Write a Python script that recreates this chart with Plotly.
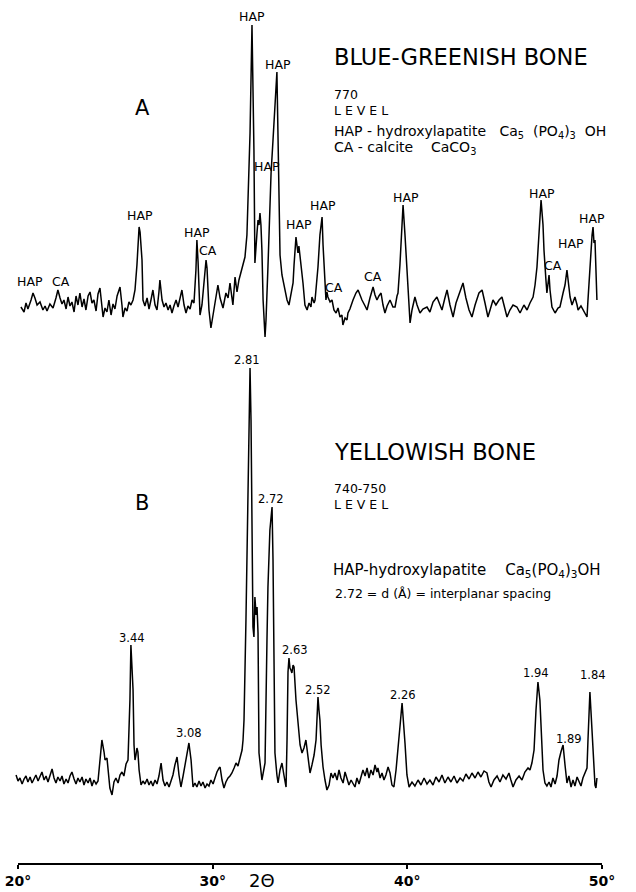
import plotly.graph_objects as go

# ---------------- data ----------------
# Panel A: blue-greenish bone (770 level); 2-theta in degrees, relative intensity
a_two_theta = [
    20.15, 20.31, 20.41, 20.51, 20.67, 20.77, 20.87, 20.98, 21.13, 21.28,
    21.39, 21.49, 21.64, 21.80, 21.95, 22.05, 22.16, 22.26, 22.36, 22.47,
    22.57, 22.67, 22.77, 22.88, 22.98, 23.08, 23.18, 23.29, 23.39, 23.49,
    23.60, 23.70, 23.80, 23.90, 24.01, 24.11, 24.21, 24.31, 24.37, 24.47,
    24.57, 24.67, 24.78, 24.88, 24.98, 25.09, 25.19, 25.24, 25.34, 25.39,
    25.50, 25.60, 25.70, 25.80, 25.91, 26.01, 26.11, 26.22, 26.27, 26.37,
    26.42, 26.52, 26.63, 26.73, 26.83, 26.93, 27.04, 27.14, 27.24, 27.29,
    27.40, 27.50, 27.60, 27.71, 27.81, 27.91, 28.01, 28.12, 28.22, 28.32,
    28.42, 28.53, 28.63, 28.73, 28.84, 28.94, 29.04, 29.14, 29.19, 29.25,
    29.35, 29.45, 29.55, 29.66, 29.71, 29.81, 29.91, 30.02, 30.12, 30.27,
    30.38, 30.53, 30.68, 30.79, 30.89, 30.99, 31.04, 31.15, 31.25, 31.35,
    31.51, 31.66, 31.76, 31.81, 31.92, 32.02, 32.07, 32.12, 32.17, 32.23,
    32.28, 32.33, 32.38, 32.43, 32.48, 32.53, 32.59, 32.69, 32.74, 32.84,
    32.94, 33.00, 33.10, 33.15, 33.25, 33.30, 33.36, 33.41, 33.46, 33.56,
    33.72, 33.82, 33.92, 34.02, 34.13, 34.18, 34.28, 34.33, 34.38, 34.43,
    34.49, 34.59, 34.64, 34.74, 34.85, 34.95, 35.05, 35.10, 35.21, 35.26,
    35.36, 35.41, 35.51, 35.62, 35.67, 35.72, 35.77, 35.82, 35.87, 35.92,
    36.03, 36.13, 36.23, 36.34, 36.44, 36.54, 36.64, 36.69, 36.80, 36.90,
    36.95, 37.05, 37.21, 37.36, 37.47, 37.57, 37.67, 37.83, 37.93, 38.08,
    38.24, 38.34, 38.44, 38.54, 38.65, 38.75, 38.85, 38.96, 39.11, 39.26,
    39.37, 39.47, 39.52, 39.62, 39.73, 39.78, 39.88, 39.98, 40.09, 40.14,
    40.24, 40.39, 40.50, 40.65, 40.80, 41.01, 41.16, 41.32, 41.52, 41.68,
    41.78, 41.93, 42.04, 42.19, 42.35, 42.50, 42.71, 42.86, 43.01, 43.17,
    43.32, 43.48, 43.68, 43.84, 43.99, 44.14, 44.25, 44.40, 44.55, 44.71,
    44.86, 45.02, 45.12, 45.27, 45.43, 45.63, 45.79, 45.99, 46.15, 46.30,
    46.46, 46.56, 46.66, 46.76, 46.87, 46.97, 47.02, 47.12, 47.17, 47.28,
    47.33, 47.43, 47.59, 47.74, 47.84, 48.00, 48.10, 48.20, 48.30, 48.36,
    48.46, 48.61, 48.72, 48.77, 48.92, 49.02, 49.13, 49.23, 49.28, 49.38,
    49.49, 49.54, 49.59, 49.64, 49.69, 49.74,
]
a_intensity = [
    33, 28, 37, 31, 40, 47, 42, 35, 38, 30,
    34, 29, 36, 32, 42, 50, 42, 36, 40, 31,
    43, 34, 38, 28, 44, 35, 47, 33, 41, 30,
    44, 48, 37, 40, 29, 46, 52, 35, 23, 32,
    28, 40, 25, 36, 31, 44, 50, 53, 35, 23,
    32, 29, 38, 35, 40, 50, 75, 113, 108, 80,
    40, 34, 42, 31, 40, 50, 35, 30, 48, 60,
    40, 33, 37, 30, 35, 27, 34, 40, 33, 43,
    50, 35, 27, 34, 31, 40, 37, 70, 100, 78,
    25, 35, 55, 80, 72, 30, 12, 25, 40, 55,
    42, 32, 47, 42, 57, 40, 35, 63, 48, 60,
    73, 83, 105, 140, 207, 315, 260, 190, 77, 90,
    108, 120, 115, 127, 115, 90, 40, 3, 20, 73,
    140, 167, 200, 220, 250, 268, 200, 140, 85, 65,
    47, 40, 35, 44, 57, 75, 103, 95, 87, 94,
    85, 65, 57, 35, 30, 37, 33, 43, 37, 40,
    60, 73, 105, 123, 95, 73, 45, 40, 48, 43,
    38, 40, 30, 27, 32, 23, 25, 15, 22, 20,
    27, 31, 40, 47, 50, 44, 40, 34, 30, 42,
    53, 45, 40, 44, 47, 35, 27, 34, 40, 33,
    33, 44, 47, 75, 115, 135, 105, 73, 30, 17,
    30, 43, 35, 27, 31, 33, 28, 38, 43, 35,
    30, 42, 50, 35, 23, 37, 48, 57, 42, 30,
    23, 35, 47, 50, 37, 23, 30, 40, 35, 40,
    43, 30, 23, 30, 35, 33, 27, 35, 30, 37,
    43, 55, 73, 105, 140, 115, 90, 60, 47, 65,
    50, 33, 27, 32, 33, 47, 55, 70, 55, 43,
    35, 43, 35, 30, 34, 30, 27, 23, 40, 73,
    105, 113, 97, 100, 75, 40,
]

# Panel B: yellowish bone (740-750 level)
b_two_theta = [
    19.90, 20.00, 20.10, 20.21, 20.31, 20.41, 20.51, 20.62, 20.72, 20.82,
    20.92, 21.03, 21.13, 21.23, 21.34, 21.44, 21.54, 21.64, 21.75, 21.85,
    21.95, 22.05, 22.16, 22.26, 22.36, 22.47, 22.57, 22.67, 22.77, 22.88,
    22.98, 23.08, 23.18, 23.29, 23.39, 23.49, 23.60, 23.70, 23.80, 23.90,
    24.01, 24.11, 24.21, 24.31, 24.42, 24.47, 24.57, 24.62, 24.72, 24.83,
    24.93, 25.03, 25.14, 25.24, 25.34, 25.44, 25.55, 25.65, 25.75, 25.80,
    25.91, 25.96, 26.01, 26.06, 26.11, 26.16, 26.22, 26.32, 26.42, 26.52,
    26.63, 26.73, 26.83, 26.93, 27.04, 27.14, 27.24, 27.35, 27.45, 27.55,
    27.65, 27.76, 27.86, 27.96, 28.06, 28.17, 28.27, 28.37, 28.48, 28.58,
    28.68, 28.78, 28.89, 28.99, 29.09, 29.19, 29.30, 29.40, 29.50, 29.61,
    29.71, 29.81, 29.91, 30.02, 30.12, 30.22, 30.33, 30.38, 30.48, 30.58,
    30.68, 30.79, 30.89, 30.99, 31.10, 31.20, 31.30, 31.40, 31.51, 31.56,
    31.61, 31.71, 31.81, 31.92, 31.97, 32.02, 32.07, 32.12, 32.17, 32.23,
    32.28, 32.33, 32.38, 32.53, 32.64, 32.69, 32.79, 32.84, 32.94, 33.05,
    33.10, 33.15, 33.20, 33.30, 33.36, 33.46, 33.56, 33.66, 33.77, 33.82,
    33.87, 33.92, 33.97, 34.02, 34.07, 34.13, 34.18, 34.28, 34.38, 34.49,
    34.59, 34.69, 34.79, 34.90, 35.00, 35.10, 35.21, 35.31, 35.36, 35.41,
    35.46, 35.51, 35.57, 35.67, 35.77, 35.87, 35.98, 36.08, 36.18, 36.28,
    36.39, 36.49, 36.59, 36.70, 36.80, 36.90, 37.00, 37.11, 37.21, 37.31,
    37.41, 37.52, 37.62, 37.72, 37.83, 37.93, 38.03, 38.13, 38.24, 38.34,
    38.44, 38.49, 38.60, 38.70, 38.80, 38.90, 39.01, 39.11, 39.21, 39.31,
    39.42, 39.52, 39.62, 39.73, 39.78, 39.88, 39.98, 40.09, 40.24, 40.39,
    40.55, 40.70, 40.86, 41.01, 41.16, 41.32, 41.47, 41.63, 41.78, 41.93,
    42.09, 42.24, 42.40, 42.55, 42.71, 42.86, 43.01, 43.17, 43.32, 43.48,
    43.63, 43.78, 43.94, 44.09, 44.19, 44.30, 44.45, 44.61, 44.76, 44.91,
    45.07, 45.22, 45.32, 45.43, 45.58, 45.74, 45.89, 46.04, 46.20, 46.30,
    46.40, 46.51, 46.61, 46.71, 46.81, 46.87, 46.97, 47.07, 47.17, 47.28,
    47.38, 47.48, 47.59, 47.69, 47.79, 47.89, 48.00, 48.10, 48.20, 48.30,
    48.41, 48.51, 48.61, 48.72, 48.82, 48.92, 49.02, 49.13, 49.23, 49.28,
    49.33, 49.38, 49.43, 49.49, 49.54, 49.59, 49.64, 49.69, 49.74,
]
b_intensity = [
    25, 19, 22, 16, 21, 24, 18, 23, 17, 21,
    25, 19, 23, 28, 20, 24, 18, 25, 31, 22,
    17, 23, 19, 24, 16, 21, 17, 24, 28, 21,
    16, 22, 18, 23, 15, 21, 17, 22, 14, 20,
    16, 19, 40, 60, 48, 40, 42, 32, 12, 5,
    18, 22, 17, 25, 28, 24, 36, 40, 100, 155,
    110, 55, 40, 45, 52, 48, 30, 15, 19, 16,
    21, 15, 19, 14, 20, 16, 24, 37, 20, 14,
    18, 13, 19, 25, 35, 43, 25, 13, 24, 35,
    45, 57, 40, 13, 17, 13, 19, 14, 18, 12,
    16, 14, 20, 16, 22, 28, 32, 33, 20, 12,
    18, 22, 24, 27, 32, 37, 34, 43, 50, 60,
    80, 180, 320, 432, 380, 247, 173, 163, 203, 185,
    193, 167, 47, 20, 30, 37, 160, 213, 270, 293,
    240, 110, 47, 25, 17, 30, 37, 25, 13, 60,
    128, 142, 132, 130, 127, 135, 133, 100, 80, 55,
    47, 52, 60, 40, 27, 35, 45, 60, 85, 103,
    90, 80, 55, 33, 20, 10, 15, 27, 22, 27,
    20, 30, 22, 17, 28, 20, 15, 20, 17, 13,
    22, 16, 23, 30, 24, 32, 22, 30, 25, 35,
    28, 32, 22, 27, 20, 25, 33, 27, 15, 13,
    30, 55, 73, 97, 85, 57, 25, 13, 18, 14,
    20, 15, 22, 16, 20, 15, 23, 18, 25, 17,
    23, 18, 24, 17, 22, 19, 26, 21, 27, 22,
    28, 23, 29, 27, 18, 13, 20, 24, 18, 25,
    21, 27, 20, 13, 20, 24, 20, 28, 32, 30,
    37, 50, 90, 118, 100, 70, 30, 17, 14, 18,
    13, 22, 16, 24, 40, 48, 55, 35, 17, 24,
    13, 20, 14, 23, 18, 14, 22, 27, 32, 60,
    95, 108, 90, 65, 47, 30, 15, 12, 22,
]

# Peak labels (text, 2-theta of label centre, intensity level of label centre)
a_peak_labels = ["HAP", "CA", "HAP", "HAP", "CA", "HAP", "HAP", "HAP", "HAP",
                 "HAP", "CA", "CA", "HAP", "HAP", "CA", "HAP", "HAP"]
a_peak_two_theta = [20.62, 22.21, 26.27, 29.19, 29.76, 32.02, 32.79, 33.36, 34.43,
                    35.67, 36.23, 38.24, 39.93, 46.92, 47.48, 48.41, 49.49]
a_peak_level = [59, 59, 125, 108, 90, 324, 174, 276, 116,
                135, 53, 64, 143, 147, 75, 97, 122]

b_peak_labels = ["2.81", "2.72", "3.44", "3.08", "2.63", "2.52", "2.26", "1.94", "1.89", "1.84"]
b_peak_two_theta = [31.76, 33.00, 25.86, 28.78, 34.23, 35.41, 39.78, 46.61, 48.30, 49.54]
b_peak_level = [440, 301, 162, 67, 150, 110, 105, 127, 61, 125]

tick_values = [20, 30, 40, 50]
tick_labels = ["20°", "30°", "40°", "50°"]

assert len(a_two_theta) == len(a_intensity), (len(a_two_theta), len(a_intensity))
assert len(b_two_theta) == len(b_intensity), (len(b_two_theta), len(b_intensity))

# ---------------- layout helpers ----------------
W, H = 636, 892
MB = 28
PH = H - MB
FONT = "DejaVu Sans"


def py(ypix):
    return (PH - ypix) / PH


def pxf(xpix):
    return xpix / W


fig = go.Figure()
fig.add_trace(go.Scatter(x=a_two_theta, y=a_intensity, mode="lines",
                         line=dict(color="black", width=1.5), yaxis="y",
                         hoverinfo="skip", name="A"))
fig.add_trace(go.Scatter(x=b_two_theta, y=b_intensity, mode="lines",
                         line=dict(color="black", width=1.5), yaxis="y2",
                         hoverinfo="skip", name="B"))

annotations = []
for t, xv, yv in zip(a_peak_labels, a_peak_two_theta, a_peak_level):
    annotations.append(dict(text=t, x=xv, y=yv, xref="x", yref="y", showarrow=False,
                            xanchor="center", yanchor="middle",
                            font=dict(family=FONT, size=12.5, color="black")))
for t, xv, yv in zip(b_peak_labels, b_peak_two_theta, b_peak_level):
    annotations.append(dict(text=t, x=xv, y=yv, xref="x", yref="y2", showarrow=False,
                            xanchor="center", yanchor="middle",
                            font=dict(family=FONT, size=11.5, color="black")))

NB = "\u00a0"
texts = [
    ("BLUE-GREENISH BONE", 332, 57, 22.5),
    ("770<br>L E V E L", 332, 102, 12.5),
    ("HAP - hydroxylapatite" + NB * 3 + "Ca<sub>5</sub>" + NB * 2 + "(PO<sub>4</sub>)<sub>3</sub>"
     + NB * 2 + "OH", 332, 132, 14),
    ("CA - calcite" + NB * 4 + "CaCO<sub>3</sub>", 332, 148, 14),
    ("YELLOWISH BONE", 332, 452, 22.5),
    ("740-750<br>L E V E L", 332, 496, 12.5),
    ("HAP-hydroxylapatite" + NB * 4 + "Ca<sub>5</sub>(PO<sub>4</sub>)<sub>3</sub>OH", 331, 570, 15),
    ("2.72 = d (Å) = interplanar spacing", 333, 593, 12.5),
]
for t, x0, y0, s in texts:
    annotations.append(dict(text=t, x=pxf(x0), y=py(y0), xref="paper", yref="paper",
                            showarrow=False, xanchor="left", yanchor="middle",
                            align="left",
                            font=dict(family=FONT, size=s, color="black")))

for t, x0, y0 in [("A", 142, 108), ("B", 142, 503)]:
    annotations.append(dict(text=t, x=pxf(x0), y=py(y0), xref="paper", yref="paper",
                            showarrow=False, xanchor="center", yanchor="middle",
                            font=dict(family=FONT, size=21, color="black")))

annotations.append(dict(text="2Θ", x=pxf(262), y=py(881), xref="paper", yref="paper",
                        showarrow=False, xanchor="center", yanchor="middle",
                        font=dict(family=FONT, size=18, color="black")))

fig.update_layout(
    width=W, height=H,
    margin=dict(l=0, r=0, t=0, b=MB, pad=0),
    paper_bgcolor="white", plot_bgcolor="white",
    showlegend=False,
    xaxis=dict(range=[19.075, 51.747], anchor="free", position=0,
               tickmode="array", tickvals=tick_values, ticktext=tick_labels,
               ticks="outside", ticklen=4, tickwidth=1.5, tickcolor="black",
               showline=False, showgrid=False, zeroline=False,
               tickfont=dict(family=FONT, size=14, color="black", weight="bold"),
               fixedrange=True),
    yaxis=dict(domain=[py(340), 1.0], range=[0, 340], visible=False,
               showgrid=False, zeroline=False, fixedrange=True),
    yaxis2=dict(domain=[py(800), py(340)], range=[0, 460], visible=False,
                showgrid=False, zeroline=False, anchor="x", fixedrange=True),
    annotations=annotations,
    shapes=[dict(type="line", xref="x", yref="paper",
                 x0=tick_values[0], x1=tick_values[-1], y0=0, y1=0,
                 line=dict(color="black", width=2))],
)

fig.write_html("out.html", config={"displayModeBar": False},
               post_script="document.body.style.margin='0';document.body.style.overflow='hidden';")
